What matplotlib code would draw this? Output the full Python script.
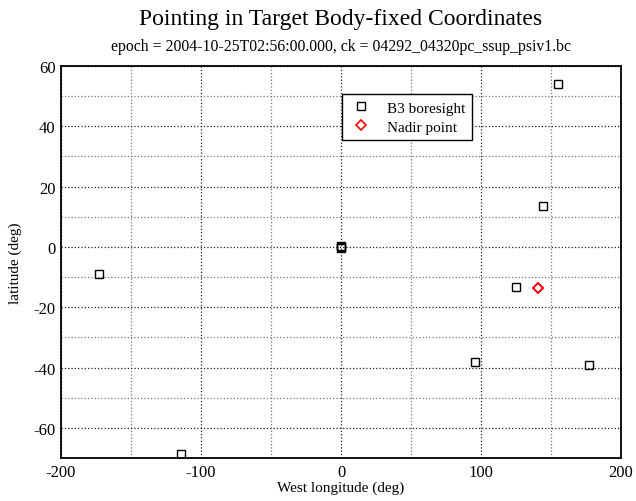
import matplotlib
matplotlib.use('Agg')
import matplotlib.pyplot as plt
from matplotlib.ticker import MultipleLocator

plt.rcParams['font.family'] = ['Liberation Serif', 'DejaVu Serif']
plt.rcParams['axes.unicode_minus'] = False

# B3 boresight points (west longitude, latitude)
bore_lon = [-172.5, -114, 0, 0, 0, 95.5, 125, 144, 155, 177]
bore_lat = [-9, -68.7, 0, 0.3, -0.2, -38, -13.2, 13.5, 54, -39]
# Nadir point
nadir_lon = [140.5, 140.5]
nadir_lat = [-13.6, -13.5]

fig = plt.figure(figsize=(6.36, 5.02), dpi=100)
ax = fig.add_axes([61/636, 1 - 459/502, 560/636, 392/502])

ax.plot(bore_lon, bore_lat, 's', mfc='none', mec='black', ms=5.5, mew=1, label='B3 boresight')
ax.plot(nadir_lon, nadir_lat, 'D', mfc='none', mec='red', ms=5, mew=1.2, label='Nadir point')

ax.set_xlim(-200, 200)
ax.set_ylim(-70, 60)
ax.xaxis.set_major_locator(MultipleLocator(100))
ax.xaxis.set_minor_locator(MultipleLocator(50))
ax.yaxis.set_major_locator(MultipleLocator(20))
ax.yaxis.set_minor_locator(MultipleLocator(10))
ax.grid(True, which='major', linestyle=':', color='#222222', linewidth=0.9)
ax.grid(True, which='minor', linestyle=':', color='#777777', linewidth=0.9)
ax.tick_params(which='both', length=0, labelsize=12, pad=4)
for s in ax.spines.values():
    s.set_linewidth(1.3)

ax.set_xlabel('West longitude (deg)', fontsize=11, labelpad=1)
ax.set_ylabel('latitude (deg)', fontsize=11, labelpad=8)
# titles centred over the plot area
xc = (61 + 621) / 2 / 636
fig.text(xc, 1 - 20/502, 'Pointing in Target Body-fixed Coordinates', ha='center', va='center', fontsize=17)
fig.text(xc, 1 - 47/502, 'epoch = 2004-10-25T02:56:00.000, ck = 04292_04320pc_ssup_psiv1.bc', ha='center', va='center', fontsize=11.3)

leg = ax.legend(loc='upper left', bbox_to_anchor=((342-61)/560, (459-95)/392), fancybox=False,
                edgecolor='black', fontsize=11, handletextpad=0.9, handlelength=1.6, borderpad=0.45,
                labelspacing=0.35, framealpha=1, borderaxespad=0)
leg.get_frame().set_linewidth(1)

fig.savefig('out.png', dpi=100)
